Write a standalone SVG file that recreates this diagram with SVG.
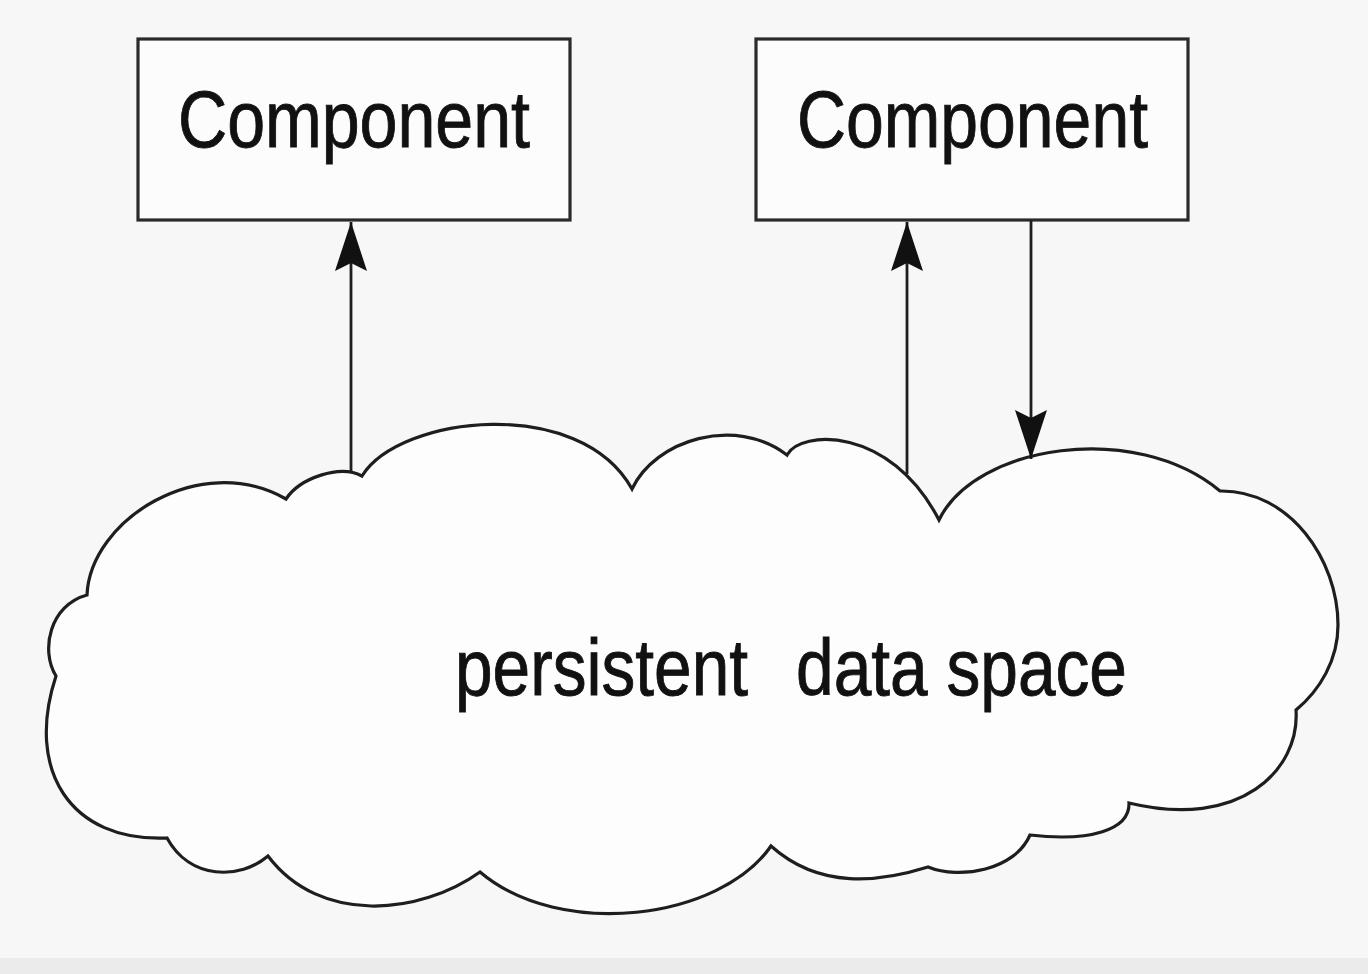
<svg xmlns="http://www.w3.org/2000/svg" width="1368" height="974" viewBox="0 0 1368 974">
<style>
.box{fill:#fcfcfc;stroke:#2a2a2a;stroke-width:3.2}
.cloud{fill:#fdfdfd;stroke:#1e1e1e;stroke-width:3.2;stroke-linejoin:miter}
.lbl{font-family:"Liberation Sans",Arial,Helvetica,sans-serif;font-size:80px;fill:#111;stroke:#111;stroke-width:0.9}
.conn{stroke:#1e1e1e;stroke-width:2.8;fill:none}
</style>
<defs>
<marker id="ah" markerUnits="userSpaceOnUse" markerWidth="60" markerHeight="40" viewBox="-50 -20 60 40" refX="0" refY="0" orient="auto">
<path d="M0,0 L-49,-16 L-41,0 L-49,16 Z" fill="#111"/>
</marker>
</defs>
<rect x="0" y="0" width="1368" height="974" fill="#f7f7f7"/>
<rect x="0" y="958" width="1368" height="16" fill="#ebebeb"/>
<g id="cloud">
<path class="cloud" d="M286,499 C300,478 340,464 362,476 C400,415 580,395 632,489 C655,440 735,415 787,455 C800,430 890,425 939,520 C975,445 1135,420 1220,491 C1290,490 1338,560 1338,625 C1338,660 1320,690 1296,710 C1300,770 1240,830 1129,803 C1130,830 1090,842 1030,835 C1015,870 960,880 928,867 C880,882 820,890 771,846 C720,920 560,940 480,872 C420,915 320,925 268,856 C240,880 190,880 167,838 C70,842 25,770 56,676 C40,650 50,605 87,595 C90,520 200,450 286,499 Z"/>
<text class="lbl" y="695"><tspan x="455" textLength="293" lengthAdjust="spacingAndGlyphs">persistent</tspan><tspan x="796" textLength="331" lengthAdjust="spacingAndGlyphs">data space</tspan></text>
</g>
<g id="component1">
<rect class="box" x="138" y="39" width="432" height="181"/>
<text class="lbl" x="178" y="147" textLength="352" lengthAdjust="spacingAndGlyphs">Component</text>
</g>
<g id="component2">
<rect class="box" x="756" y="39" width="432" height="181"/>
<text class="lbl" x="797" y="147" textLength="351" lengthAdjust="spacingAndGlyphs">Component</text>
</g>
<g id="connectors">
<line class="conn" x1="351" y1="472" x2="351" y2="222" marker-end="url(#ah)"/>
<line class="conn" x1="907" y1="474" x2="907" y2="222" marker-end="url(#ah)"/>
<line class="conn" x1="1031" y1="220" x2="1031" y2="459" marker-end="url(#ah)"/>
</g>
</svg>
